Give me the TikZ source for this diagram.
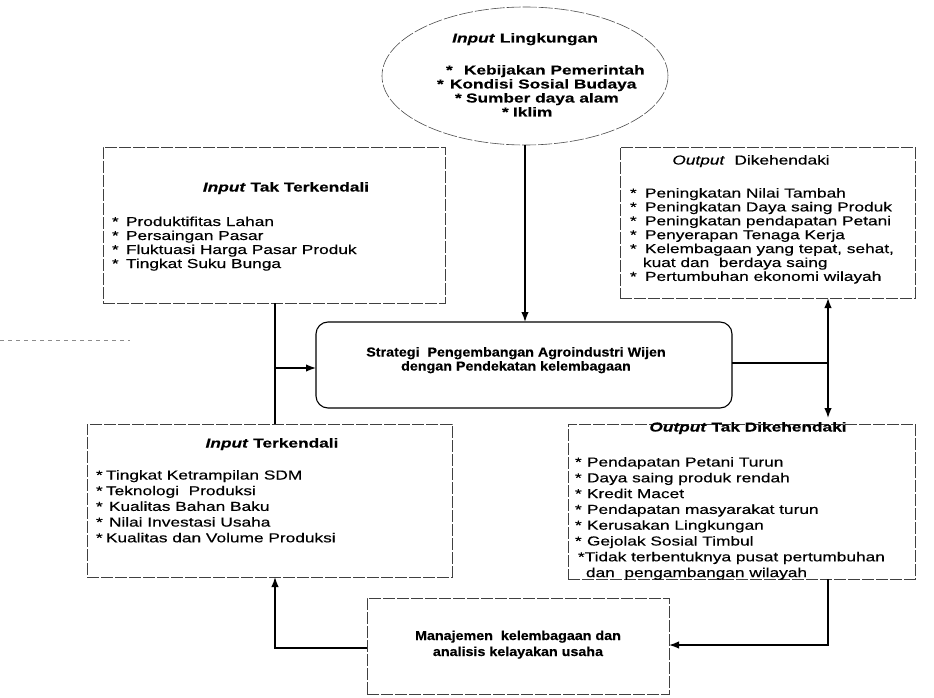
\documentclass[tikz,border=0pt]{standalone}
\usepackage{fontspec}
\setmainfont{Liberation Sans}[FakeStretch=1.33,UprightFeatures={FakeBold=0.4},ItalicFeatures={FakeBold=0.4},BoldFeatures={FakeBold=0.3},BoldItalicFeatures={FakeBold=0.3}]
\newfontfamily\cfont{Liberation Sans}[FakeStretch=1.1,BoldFeatures={FakeBold=0.4}]
\usetikzlibrary{arrows.meta,shapes.geometric}
\begin{document}
\begin{tikzpicture}[x=1pt,y=-1pt,
  every node/.style={inner sep=0pt,outer sep=0pt,font=\fontsize{13}{14}\selectfont},
  frame/.style={draw=black!75,line width=0.6pt,dash pattern=on 12pt off 2pt},
  conn/.style={line width=1.5pt,black},
  arr/.style={conn,-{Latex[length=10pt,width=7.5pt]}},
  txt/.style={anchor=base west},
  ctxt/.style={anchor=base},
  ctext/.style={anchor=base,font=\fontsize{13}{14}\cfont\bfseries}]
\useasboundingbox (0,0) rectangle (934,698);

% stray scan mark
\draw[black!45,line width=0.5pt,dash pattern=on 4pt off 4pt] (0,340) -- (130,340);

% frames
\node[ellipse,draw=black!70,line width=0.6pt,dash pattern=on 14pt off 2pt,
      minimum width=286pt,minimum height=138pt] (el) at (525,76) {};
\node[frame,minimum width=342pt,minimum height=156pt] (tl) at (274,225) {};
\node[frame,minimum width=295pt,minimum height=151pt] (tr) at (767.5,222.5) {};
\node[draw=black,line width=1.1pt,rounded corners=12pt,
      minimum width=416pt,minimum height=86pt] (cb) at (524,365) {};
\node[frame,minimum width=365pt,minimum height=153pt] (bl) at (269.5,500.5) {};
\node[frame,minimum width=347pt,minimum height=155pt] (br) at (741.5,501.5) {};
\node[frame,minimum width=302pt,minimum height=96pt] (mb) at (518,646) {};

% ellipse text
\node[ctxt] (elt) at (525,42.5) {\textbf{\textit{Input} Lingkungan}};
\node[txt] (el1) at (446,74.5) {\textbf{\makebox[18pt][l]{*}Kebijakan Pemerintah}};
\node[txt] (el2) at (437,88.5) {\textbf{\makebox[13pt][l]{*}Kondisi Sosial Budaya}};
\node[txt] (el3) at (455,102.5) {\textbf{\makebox[11pt][l]{*}Sumber daya alam}};
\node[txt] (el4) at (502,116.5) {\textbf{\makebox[11pt][l]{*}Iklim}};

% top-left
\node[ctxt] (tlt) at (286,191.5) {\textbf{\textit{Input} Tak Terkendali}};
\foreach \s [count=\i] in {Produktifitas Lahan,Persaingan Pasar,Fluktuasi Harga Pasar Produk,Tingkat Suku Bunga}
  \node[txt] (tli\i) at (112,{226+14*(\i-1)}) {\makebox[14pt][l]{*}\s};

% top-right
\node[ctxt] (trt) at (751,164.5) {\textit{Output}\ \ Dikehendaki};
\node[txt] (tri1) at (630,197.5) {\makebox[15pt][l]{*}Peningkatan Nilai Tambah};
\node[txt] (tri2) at (630,211.4) {\makebox[15pt][l]{*}Peningkatan Daya saing Produk};
\node[txt] (tri3) at (630,225.3) {\makebox[15pt][l]{*}Peningkatan pendapatan Petani};
\node[txt] (tri4) at (630,239.2) {\makebox[15pt][l]{*}Penyerapan Tenaga Kerja};
\node[txt] (tri5) at (630,253.1) {\makebox[15pt][l]{*}Kelembagaan yang tepat, sehat,};
\node[txt] (tri6) at (643,267.0) {kuat dan\ \ berdaya saing};
\node[txt] (tri7) at (630,280.9) {\makebox[15pt][l]{*}Pertumbuhan ekonomi wilayah};

% centre
\node[ctext] (cbt1) at (516,356.5) {Strategi\ \ Pengembangan Agroindustri Wijen};
\node[ctext] (cbt2) at (516,370.5) {dengan Pendekatan kelembagaan};

% bottom-left
\node[ctxt] (blt) at (272,447.5) {\textbf{\textit{Input} Terkendali}};
\node[txt] (bli1) at (96,479.5) {\makebox[10pt][l]{*}Tingkat Ketrampilan SDM};
\node[txt] (bli2) at (96,495.2) {\makebox[10pt][l]{*}Teknologi\ \ Produksi};
\node[txt] (bli3) at (96,510.9) {\makebox[13pt][l]{*}Kualitas Bahan Baku};
\node[txt] (bli4) at (96,526.6) {\makebox[13pt][l]{*}Nilai Investasi Usaha};
\node[txt] (bli5) at (96,542.3) {\makebox[10pt][l]{*}Kualitas dan Volume Produksi};

% bottom-right
\node[ctxt] (brt) at (748,431.5) {\textbf{\textit{Output} Tak Dikehendaki}};
\foreach \s [count=\i] in {Pendapatan Petani Turun,Daya saing produk rendah,Kredit Macet,Pendapatan masyarakat turun,Kerusakan Lingkungan,Gejolak Sosial Timbul}
  \node[txt] (bri\i) at (575,{466.5+15.8*(\i-1)}) {\makebox[12pt][l]{*}\s};
\node[txt] (bri7) at (578,{466.5+15.8*6}) {*Tidak terbentuknya pusat pertumbuhan};
\node[txt] (bri8) at (586,{466.5+15.8*7}) {dan\ \ pengambangan wilayah};

% bottom box
\node[ctext] (mbt1) at (518,640) {Manajemen\ \ kelembagaan dan};
\node[ctext] (mbt2) at (518,656) {analisis kelayakan usaha};

% connectors
\draw[arr] (el.south) -- (el.south |- cb.north);
\coordinate (jl) at (275,368);
\draw[conn] (tl.south -| jl) -- (bl.north -| jl);
\draw[arr] (jl) -- (jl -| cb.west);
\coordinate (jr) at (828,363);
\coordinate (brin) at (828,418);
\draw[conn] (cb.east |- jr) -- (jr);
\draw[arr] (jr) -- (jr |- tr.south);
\draw[arr] (jr) -- (brin);
\coordinate (cr) at (828,645);
\draw[arr] (br.south -| cr) -- (cr) -- (cr -| mb.east);
\coordinate (cl) at (275,648);
\draw[arr] (mb.west |- cl) -- (cl) -- (cl |- bl.south);
\end{tikzpicture}
\end{document}
